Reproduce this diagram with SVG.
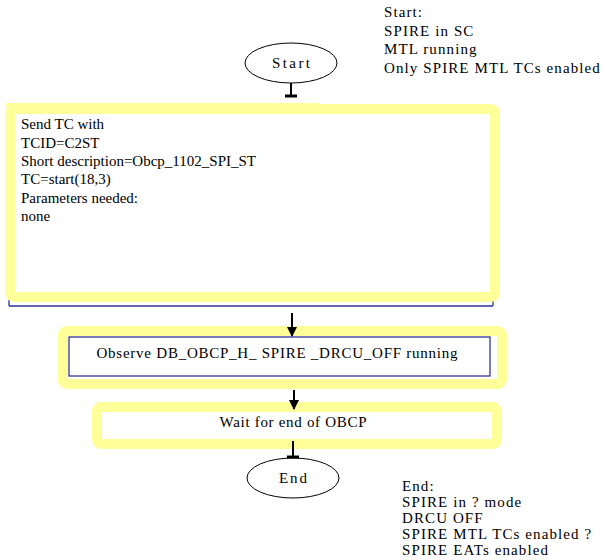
<svg xmlns="http://www.w3.org/2000/svg" width="605" height="560" viewBox="0 0 605 560">
<defs>
<style>
text{font-family:"Liberation Serif","Times New Roman",serif;font-size:15px;fill:#000}
.note{letter-spacing:1.1px}
.yl{fill:#fff;stroke:#ffff99;stroke-width:10}
.bl{fill:#fff;stroke:#333399;stroke-width:1.3}
.term{fill:#fff;stroke:#000;stroke-width:1}
.ln{stroke:#000;stroke-width:2;fill:none}
</style>
<marker id="ah" markerWidth="10" markerHeight="10" refX="9" refY="5" orient="auto" markerUnits="userSpaceOnUse" viewBox="0 0 10 10">
<path d="M0,0 L10,5 L0,10 Z" fill="#000"/>
</marker>
<marker id="tb" markerWidth="12" markerHeight="4" refX="6" refY="2" orient="0" markerUnits="userSpaceOnUse" viewBox="0 0 12 4">
<rect x="0" y="0.5" width="12" height="3" fill="#000"/>
</marker>
</defs>
<rect width="605" height="560" fill="#fff"/>

<g id="note-start">
<text class="note" x="384" y="17">Start:</text>
<text class="note" x="384" y="35.5">SPIRE in SC</text>
<text class="note" x="384" y="54">MTL running</text>
<text class="note" x="384" y="72.5">Only SPIRE MTL TCs enabled</text>
</g>

<g id="start">
<ellipse class="term" cx="291" cy="63" rx="46" ry="20"/>
<text x="291" y="68" text-anchor="middle" textLength="38" lengthAdjust="spacing">Start</text>
</g>

<g id="send-tc">
<path d="M9,306 V300 M493,306 V300 M9,306 H493" class="bl" fill="none"/>
<rect class="yl" x="10" y="109" width="485" height="188" rx="4"/>
<rect x="5" y="103" width="315" height="4" fill="#ffff99" rx="2"/>
<text x="21" y="129">Send TC with</text>
<text x="21" y="147.5">TCID=C2ST</text>
<text x="21" y="166">Short description=Obcp_1102_SPI_ST</text>
<text x="21" y="184">TC=start(18,3)</text>
<text x="21" y="202.5">Parameters needed:</text>
<text x="21" y="221">none</text>
</g>

<g id="observe">
<rect class="yl" x="63" y="331" width="439" height="53" rx="4"/>
<rect class="bl" x="69" y="337" width="421" height="39"/>
<text x="277" y="358" text-anchor="middle" textLength="361" lengthAdjust="spacing">Observe DB_OBCP_H_ SPIRE _DRCU_OFF running</text>
</g>

<g id="wait">
<rect class="yl" x="97" y="407" width="400" height="37" rx="4"/>
<text x="293" y="427" text-anchor="middle" textLength="147" lengthAdjust="spacing">Wait for end of OBCP</text>
</g>

<g id="end">
<ellipse class="term" cx="293" cy="478" rx="46" ry="20"/>
<text x="293" y="483" text-anchor="middle" textLength="28" lengthAdjust="spacing">End</text>
</g>

<g id="note-end">
<text class="note" x="402" y="491">End:</text>
<text class="note" x="402" y="507">SPIRE in ? mode</text>
<text class="note" x="402" y="523">DRCU OFF</text>
<text class="note" x="402" y="539">SPIRE MTL TCs enabled ?</text>
<text class="note" x="402" y="555">SPIRE EATs enabled</text>
</g>

<g id="connectors">
<line class="ln" x1="291" y1="83" x2="291" y2="96" marker-end="url(#tb)"/>
<line class="ln" x1="292" y1="313" x2="292" y2="336" marker-end="url(#ah)"/>
<line class="ln" x1="294" y1="390" x2="294" y2="409" marker-end="url(#ah)"/>
<line class="ln" x1="293" y1="441" x2="293" y2="457" marker-end="url(#tb)"/>
</g>
</svg>
